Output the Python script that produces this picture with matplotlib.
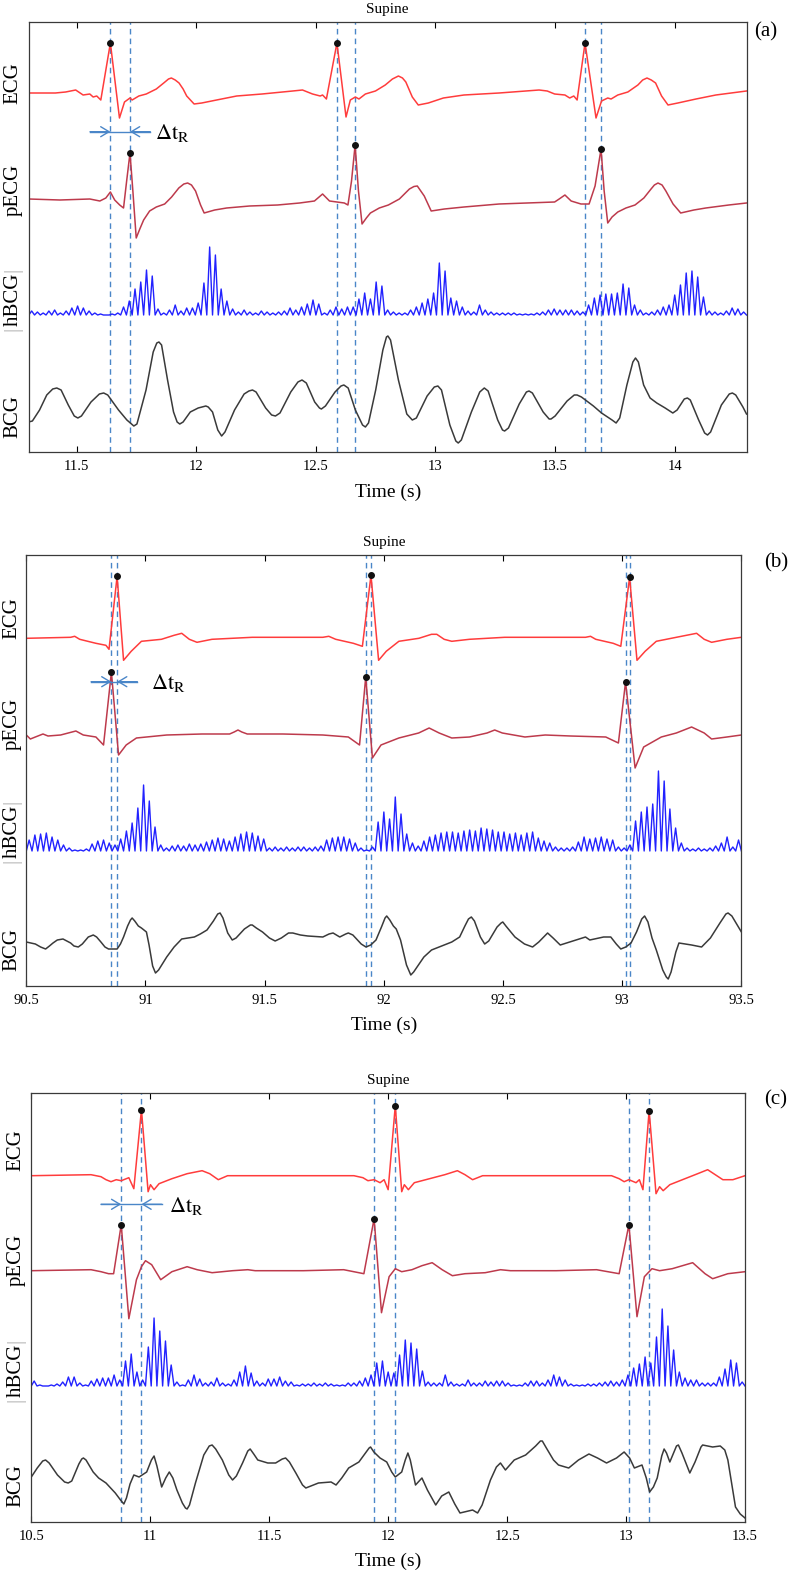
import numpy as np
import matplotlib
matplotlib.use("Agg")
import matplotlib.pyplot as plt
from matplotlib.ticker import FormatStrFormatter

plt.rcParams['font.family'] = ['Liberation Serif', 'DejaVu Serif']
plt.rcParams['mathtext.fontset'] = 'stix'

# ---------------- data ----------------
# traces: (time s, amplitude) ; amplitude in px above/below the trace baseline
# |hBCG|: height of each 24 ms oscillation, starting at the left edge of the panel

# panel (a), 11.3 - 14.3 s
ecg_a = [(11.300, 0), (11.411, 0), (11.454, 1), (11.496, 3), (11.527, -2), (11.555, -1), (11.569, -4),
         (11.584, -3), (11.601, -7), (11.641, 50), (11.679, -25), (11.700, -9), (11.723, -5), (11.732, -7),
         (11.760, -3), (11.791, -1), (11.833, 4), (11.864, 10), (11.884, 14), (11.896, 15), (11.912, 13),
         (11.928, 10), (11.945, 4), (11.960, -3), (11.991, -11), (12.023, -10), (12.085, -7), (12.169, -3),
         (12.275, -1), (12.403, 2), (12.444, 3), (12.486, -1), (12.518, -3), (12.528, -2), (12.544, -6),
         (12.588, 50), (12.626, -24), (12.644, -7), (12.665, -4), (12.680, -6), (12.707, -1), (12.749, 2),
         (12.790, 8), (12.820, 14), (12.845, 17), (12.862, 15), (12.876, 11), (12.903, -4), (12.928, -12),
         (12.970, -10), (13.033, -5), (13.119, -2), (13.266, 0), (13.433, 3), (13.467, 2), (13.498, -1),
         (13.541, -2), (13.561, -5), (13.578, -3), (13.592, -7), (13.625, 50), (13.671, -25), (13.694, -8),
         (13.720, -5), (13.734, -6), (13.762, -2), (13.804, 1), (13.846, 8), (13.866, 13), (13.884, 15),
         (13.902, 13), (13.920, 10), (13.945, -3), (13.972, -12), (14.013, -10), (14.089, -6), (14.172, -2),
         (14.300, 2)]
pecg_a = [(11.300, 2), (11.430, 1), (11.555, 2), (11.597, 0), (11.622, 3), (11.641, 9), (11.659, 1),
          (11.680, -4), (11.696, -7), (11.709, 20), (11.723, 48), (11.735, 10), (11.749, -37), (11.764, -28),
          (11.780, -19), (11.805, -10), (11.833, -6), (11.868, -3), (11.897, 4), (11.927, 13), (11.948, 17),
          (11.964, 18), (11.980, 16), (11.997, 10), (12.018, -4), (12.033, -12), (12.077, -9), (12.127, -7),
          (12.223, -5), (12.340, -4), (12.432, -2), (12.494, 0), (12.528, 7), (12.557, 0), (12.619, -2),
          (12.634, -4), (12.649, 20), (12.664, 56), (12.678, 10), (12.693, -23), (12.711, -17), (12.728, -12),
          (12.765, -7), (12.803, -4), (12.849, 2), (12.891, 12), (12.910, 14.5), (12.924, 15), (12.953, 5),
          (12.982, -10), (13.037, -8), (13.119, -6), (13.266, -3), (13.498, -1), (13.517, 2), (13.541, 6),
          (13.567, 0), (13.608, -3), (13.642, -3), (13.667, 15), (13.692, 52), (13.705, 10), (13.720, -22),
          (13.738, -16), (13.762, -11), (13.796, -7), (13.834, -4), (13.871, 3), (13.901, 12), (13.915, 16),
          (13.930, 18), (13.947, 16), (13.963, 10), (13.993, -3), (14.025, -12), (14.080, -9), (14.130, -7),
          (14.226, -4), (14.300, -2)]
bcg_a = [(11.299, -32), (11.315, -31), (11.345, -20), (11.375, -5), (11.400, 1), (11.417, 2), (11.435, 0),
         (11.465, -15), (11.490, -26), (11.505, -28), (11.520, -26), (11.560, -12), (11.595, -4), (11.613, -3),
         (11.630, -5), (11.675, -20), (11.710, -30), (11.739, -36), (11.752, -34), (11.790, 0), (11.820, 38),
         (11.835, 47), (11.844, 48), (11.855, 45), (11.880, 10), (11.905, -22), (11.920, -32), (11.931, -34),
         (11.945, -32), (11.975, -22), (12.008, -18), (12.040, -16), (12.050, -17), (12.068, -22), (12.090, -40),
         (12.106, -46), (12.120, -42), (12.160, -20), (12.200, -4), (12.220, -1), (12.235, 0), (12.250, -2),
         (12.290, -18), (12.315, -25), (12.331, -26), (12.350, -23), (12.395, -2), (12.425, 8), (12.442, 10),
         (12.460, 7), (12.495, -12), (12.515, -18), (12.523, -19), (12.540, -16), (12.580, -2), (12.605, 4),
         (12.617, 5), (12.635, 2), (12.665, -20), (12.695, -35), (12.707, -37), (12.720, -33), (12.750, 0),
         (12.780, 40), (12.795, 53), (12.801, 54), (12.812, 50), (12.845, 10), (12.880, -24), (12.903, -30),
         (12.920, -28), (12.965, -6), (12.995, 3), (13.010, 4), (13.025, 0), (13.060, -35), (13.085, -51),
         (13.095, -53), (13.108, -50), (13.150, -22), (13.185, -2), (13.204, 2), (13.220, -1), (13.260, -30),
         (13.280, -40), (13.289, -41), (13.305, -38), (13.350, -14), (13.380, -2), (13.391, -1), (13.405, -3),
         (13.450, -22), (13.475, -29), (13.483, -29), (13.500, -26), (13.550, -11), (13.580, -5), (13.592, -5),
         (13.610, -7), (13.660, -16), (13.694, -23), (13.738, -30), (13.755, -33), (13.770, -28), (13.800, 5),
         (13.825, 28), (13.836, 32), (13.848, 28), (13.870, 5), (13.897, -8), (13.925, -13), (13.960, -18),
         (13.992, -23), (14.010, -20), (14.040, -9), (14.053, -8), (14.065, -10), (14.100, -30), (14.125, -43),
         (14.137, -45), (14.150, -42), (14.195, -15), (14.228, -4), (14.241, -3), (14.255, -5), (14.285, -17),
         (14.300, -24)]
hbcg_a = [4, 3, 2, 4, 5, 2, 4, 7, 9, 7,
          4, 2, 1, 0, 1, 2, 8, 14, 26, 33,
          45, 39, 6, 2, 5, 10, 4, 7, 7, 12,
          32, 68, 60, 26, 14, 6, 3, 5, 3, 2,
          4, 3, 2, 3, 4, 7, 5, 8, 11, 15,
          11, 2, 5, 8, 6, 8, 8, 16, 22, 16,
          33, 29, 5, 3, 2, 2, 5, 8, 12, 16,
          22, 52, 44, 17, 14, 8, 4, 3, 10, 5,
          3, 2, 2, 2, 2, 1, 1, 1, 2, 3,
          5, 6, 5, 5, 5, 4, 3, 10, 17, 20,
          21, 21, 22, 31, 27, 10, 5, 2, 3, 5,
          8, 10, 20, 30, 42, 44, 38, 18, 4, 3,
          2, 4, 7, 6, 3]
r_ecg_a = [11.641, 12.588, 13.625]
r_pecg_a = [11.723, 12.664, 13.692]

# panel (b), 90.5 - 93.5 s
ecg_b = [(90.500, 0), (90.686, 1), (90.703, 2), (90.724, -1), (90.792, -5), (90.834, -7), (90.847, -11),
         (90.881, 62), (90.908, -22), (90.940, -13), (90.983, -3), (91.067, -1), (91.120, 3), (91.152, 5),
         (91.184, -1), (91.216, -4), (91.279, -1), (91.448, 1), (91.744, 1), (91.769, 2), (91.798, -1),
         (91.872, -5), (91.910, -8), (91.946, 63), (91.978, -22), (92.010, -13), (92.063, -3), (92.147, 0),
         (92.200, 4), (92.222, 4), (92.253, -1), (92.285, -3), (92.359, -1), (92.507, 1), (92.846, 1),
         (92.867, 2), (92.889, -1), (92.962, -5), (92.994, -8), (93.031, 61), (93.062, -22), (93.096, -13),
         (93.143, -3), (93.227, 1), (93.312, 5), (93.344, -1), (93.375, -4), (93.439, -1), (93.500, 1)]
pecg_b = [(90.500, 0), (90.517, -4), (90.538, -2), (90.570, 1), (90.591, -1), (90.644, 0), (90.708, 4),
          (90.739, 0), (90.792, -2), (90.824, -10), (90.857, 63), (90.887, -20), (90.919, -10), (90.962, -3),
          (91.089, 0), (91.237, 1), (91.353, 1), (91.372, 3), (91.388, 5), (91.404, 3), (91.427, 1),
          (91.576, 1), (91.744, 0), (91.851, -2), (91.898, -10), (91.924, 58), (91.952, -23), (91.988, -10),
          (92.063, -3), (92.146, 2), (92.190, 7), (92.232, 2), (92.285, -3), (92.359, -2), (92.433, 2),
          (92.465, 5), (92.497, 2), (92.592, -2), (92.677, 0), (92.783, -1), (92.931, -2), (92.984, -8),
          (93.014, 53), (93.054, -33), (93.090, -12), (93.164, -2), (93.227, 2), (93.291, 8), (93.344, 2),
          (93.375, -4), (93.439, -2), (93.500, 0)]
bcg_b = [(90.500, -2), (90.520, -3), (90.538, -4), (90.560, -7), (90.581, -9), (90.597, -6), (90.612, -3),
         (90.630, 0), (90.654, 1), (90.670, -1), (90.686, -3), (90.700, -6), (90.718, -7), (90.735, -4),
         (90.760, 3), (90.781, 5), (90.795, 3), (90.813, -2), (90.830, -7), (90.845, -9), (90.881, -9),
         (90.895, -4), (90.908, 3), (90.925, 14), (90.937, 20), (90.944, 22), (90.955, 19), (90.970, 14),
         (90.983, 12), (91.004, 8), (91.015, -5), (91.030, -26), (91.042, -33), (91.055, -30), (91.089, -17),
         (91.120, -7), (91.152, 1), (91.180, 2), (91.205, 3), (91.230, 6), (91.258, 10), (91.285, 19),
         (91.303, 26), (91.313, 27), (91.325, 22), (91.345, 7), (91.364, 0), (91.380, 2), (91.415, 11),
         (91.440, 15), (91.448, 15), (91.465, 12), (91.491, 8), (91.520, 2), (91.544, -1), (91.570, 2),
         (91.600, 7), (91.618, 7), (91.650, 5), (91.681, 4), (91.744, 3), (91.770, 6), (91.787, 7),
         (91.815, 3), (91.840, 6), (91.851, 7), (91.870, 5), (91.905, -4), (91.925, -7), (91.945, -5),
         (91.967, 0), (91.990, 13), (92.005, 22), (92.012, 24), (92.025, 20), (92.040, 14), (92.052, 11),
         (92.070, 0), (92.095, -25), (92.113, -35), (92.125, -32), (92.168, -17), (92.200, -10), (92.232, -7),
         (92.285, -2), (92.318, 3), (92.340, 14), (92.355, 21), (92.367, 23), (92.380, 19), (92.405, 3),
         (92.423, -4), (92.440, -1), (92.475, 13), (92.492, 17), (92.499, 18), (92.512, 14), (92.550, 3),
         (92.590, -4), (92.624, -7), (92.650, -2), (92.687, 7), (92.710, 2), (92.740, -5), (92.780, -2),
         (92.846, 3), (92.864, 0), (92.922, 3), (92.952, 3), (92.975, -4), (92.994, -9), (93.015, -7),
         (93.037, -3), (93.060, 8), (93.082, 21), (93.094, 24), (93.108, 18), (93.125, 2), (93.143, -10),
         (93.170, -30), (93.185, -37), (93.193, -39), (93.205, -32), (93.225, -12), (93.238, -3), (93.291, -5),
         (93.333, -7), (93.370, 2), (93.410, 17), (93.435, 26), (93.444, 27), (93.460, 24), (93.485, 14),
         (93.500, 8)]
hbcg_b = [11, 16, 17, 18, 14, 11, 6, 3, 1, 1,
          2, 7, 10, 11, 8, 6, 12, 20, 28, 43,
          66, 50, 24, 6, 3, 5, 6, 5, 7, 6,
          7, 9, 11, 13, 12, 10, 14, 17, 19, 18,
          15, 12, 3, 4, 3, 4, 3, 4, 4, 3,
          4, 5, 11, 13, 14, 14, 12, 8, 3, 1,
          4, 29, 39, 32, 54, 37, 17, 8, 5, 10,
          14, 16, 18, 19, 19, 18, 20, 21, 20, 23,
          22, 21, 19, 19, 17, 18, 16, 18, 19, 13,
          10, 8, 4, 3, 3, 4, 9, 14, 12, 13,
          14, 12, 11, 4, 3, 6, 30, 39, 44, 47,
          80, 70, 42, 23, 8, 3, 2, 3, 2, 3,
          5, 8, 14, 4, 11]
r_ecg_b = [90.881, 91.946, 93.031]
r_pecg_b = [90.857, 91.924, 93.014]

# panel (c), 10.5 - 13.5 s
ecg_c = [(10.500, 0), (10.751, 1), (10.793, -1), (10.814, -4), (10.835, -6), (10.857, -4), (10.878, -5),
         (10.910, -2), (10.931, -13), (10.963, 66), (10.991, -16), (11.001, -9), (11.016, -14), (11.037, -8),
         (11.091, -3), (11.155, 2), (11.218, 5), (11.250, 2), (11.286, -4), (11.325, 0), (11.856, 0),
         (11.894, -2), (11.915, -5), (11.941, -4), (11.966, -7), (11.983, -4), (12.000, -14), (12.030, 70),
         (12.057, -16), (12.068, -9), (12.085, -14), (12.110, -7), (12.174, -3), (12.238, 1), (12.291, 5),
         (12.323, 1), (12.355, -4), (12.397, 0), (12.939, 0), (12.971, -3), (12.992, -6), (13.012, -4),
         (13.042, -7), (13.056, -4), (13.071, -14), (13.097, 65), (13.126, -18), (13.141, -11), (13.156, -15),
         (13.184, -9), (13.237, -4), (13.301, 2), (13.343, 6), (13.375, 1), (13.407, -4), (13.449, -4),
         (13.500, 0)]
pecg_c = [(10.500, 0), (10.751, 1), (10.793, -1), (10.825, -3), (10.846, -3), (10.878, 46), (10.910, -48),
          (10.942, -9), (10.963, 4), (10.980, 10), (11.006, 6), (11.044, -9), (11.091, -1), (11.155, 4),
          (11.197, 1), (11.260, -2), (11.346, 0), (11.410, 1), (11.441, 0), (11.643, 0), (11.813, 1),
          (11.898, -3), (11.941, 52), (11.972, -42), (12.004, -6), (12.030, 2), (12.057, -1), (12.100, 1),
          (12.142, 5), (12.185, 8), (12.227, 1), (12.270, -5), (12.323, -3), (12.408, -2), (12.472, 1),
          (12.514, 0), (12.706, 0), (12.876, 1), (12.971, -3), (13.012, 46), (13.046, -46), (13.077, -6),
          (13.109, 2), (13.141, 0), (13.194, 2), (13.280, 8), (13.332, -3), (13.364, -8), (13.428, -3),
          (13.500, -1)]
bcg_c = [(10.500, 3), (10.525, 12), (10.548, 19), (10.560, 20), (10.575, 17), (10.610, 5), (10.640, -2),
         (10.655, -3), (10.670, -1), (10.700, 16), (10.712, 21), (10.719, 22), (10.730, 20), (10.760, 8),
         (10.783, 2), (10.814, -3), (10.853, -13), (10.875, -20), (10.889, -24), (10.900, -18), (10.915, -4),
         (10.931, 5), (10.953, 3), (10.985, 8), (11.005, 20), (11.016, 24), (11.028, 14), (11.048, -7),
         (11.065, 2), (11.080, 8), (11.095, 2), (11.112, -10), (11.135, -23), (11.148, -28), (11.155, -29),
         (11.165, -25), (11.190, -3), (11.225, 25), (11.248, 34), (11.260, 35), (11.275, 31), (11.303, 20),
         (11.330, 5), (11.346, 0), (11.362, 4), (11.388, 17), (11.410, 29), (11.420, 31), (11.435, 26),
         (11.452, 20), (11.494, 17), (11.527, 17), (11.555, 21), (11.569, 22), (11.585, 18), (11.612, 7),
         (11.640, -5), (11.654, -8), (11.675, -6), (11.707, -3), (11.760, -2), (11.781, -5), (11.805, 2),
         (11.834, 12), (11.877, 18), (11.905, 27), (11.920, 32), (11.926, 33), (11.940, 28), (11.966, 22),
         (11.994, 18), (12.015, 8), (12.030, 3), (12.057, 8), (12.072, 20), (12.083, 27), (12.093, 20),
         (12.115, -5), (12.142, 2), (12.165, -10), (12.200, -25), (12.225, -16), (12.255, -12), (12.280, -24),
         (12.302, -33), (12.320, -32), (12.355, -30), (12.376, -33), (12.395, -25), (12.430, 0), (12.455, 13),
         (12.472, 17), (12.493, 10), (12.530, 20), (12.578, 25), (12.620, 34), (12.640, 39), (12.648, 39),
         (12.665, 32), (12.695, 20), (12.716, 15), (12.759, 12), (12.800, 20), (12.844, 26), (12.880, 22),
         (12.918, 17), (12.960, 22), (12.992, 28), (13.015, 22), (13.035, 12), (13.067, 15), (13.085, 2),
         (13.099, -12), (13.115, -7), (13.131, 2), (13.150, 24), (13.160, 31), (13.170, 27), (13.184, 18),
         (13.200, 27), (13.212, 34), (13.220, 35), (13.235, 27), (13.268, 7), (13.290, 18), (13.315, 33),
         (13.322, 35), (13.364, 33), (13.396, 34), (13.415, 30), (13.428, 20), (13.445, -5), (13.460, -27),
         (13.480, -34), (13.500, -38)]
hbcg_c = [5, 1, 0, 1, 2, 4, 9, 9, 3, 1,
          5, 7, 8, 8, 11, 6, 25, 32, 14, 6,
          39, 68, 55, 45, 21, 4, 1, 6, 11, 7,
          3, 4, 8, 3, 2, 6, 14, 20, 13, 5,
          3, 7, 7, 9, 5, 4, 1, 2, 2, 3,
          2, 3, 2, 1, 1, 3, 3, 5, 8, 11,
          23, 25, 14, 13, 31, 46, 43, 37, 15, 4,
          3, 3, 11, 4, 2, 2, 6, 3, 3, 5,
          4, 5, 5, 3, 1, 1, 3, 5, 5, 3,
          6, 11, 9, 6, 2, 1, 1, 2, 2, 3,
          4, 5, 4, 6, 11, 18, 22, 29, 23, 49,
          77, 60, 36, 14, 8, 6, 6, 3, 3, 3,
          9, 17, 26, 23, 4]
r_ecg_c = [10.963, 12.030, 13.097]
r_pecg_c = [10.878, 11.941, 13.012]

ticks_a = [11.5, 12, 12.5, 13, 13.5, 14]
ticks_b = [90.5, 91, 91.5, 92, 92.5, 93, 93.5]
ticks_c = [10.5, 11, 11.5, 12, 12.5, 13, 13.5]
HBCG_PERIOD = 0.024

# ---------------- drawing ----------------
W, H = 792, 1575
fig = plt.figure(figsize=(W / 100, H / 100), dpi=100)

C_ECG = '#ff3c3c'
C_PECG = '#bd3a4c'
C_HBCG = '#2222ff'
C_BCG = '#3a3a3a'
C_MARK = '#4a86c8'


def fx(x):
    return x / W


def fy(y):
    return 1 - y / H


panels = [
    dict(ecg=ecg_a, pecg=pecg_a, hbcg=hbcg_a, bcg=bcg_a, r_ecg=r_ecg_a, r_pecg=r_pecg_a,
         xlim=(11.3, 14.3), ticks=ticks_a, box=(28.8, 746.5, 22, 452), base=(359, 251, 137, 62),
         lab_x=13, lab_y=(83, 190, 299, 417), letter='(a)', letter_xy=(766, 32),
         arrow_y=131.7, dt_xy=(155, 133)),
    dict(ecg=ecg_b, pecg=pecg_b, hbcg=hbcg_b, bcg=bcg_b, r_ecg=r_ecg_b, r_pecg=r_pecg_b,
         xlim=(90.5, 93.5), ticks=ticks_b, box=(26.3, 741.4, 555, 985.7), base=(347.4, 250.7, 134.7, 45.7),
         lab_x=12, lab_y=(618, 724, 831, 950), letter='(b)', letter_xy=(776, 563),
         arrow_y=681.7, dt_xy=(151, 683)),
    dict(ecg=ecg_c, pecg=pecg_c, hbcg=hbcg_c, bcg=bcg_c, r_ecg=r_ecg_c, r_pecg=r_pecg_c,
         xlim=(10.5, 13.5), ticks=ticks_c, box=(31.3, 745, 1092.7, 1521.7), base=(346, 251, 135.7, 41.7),
         lab_x=16, lab_y=(1150, 1260, 1370, 1486), letter='(c)', letter_xy=(776, 1100),
         arrow_y=1204.3, dt_xy=(169, 1206)),
]

for p in panels:
    l, r, t, b = p['box']
    ax = fig.add_axes([fx(l), fy(b), (r - l) / W, (b - t) / H])
    ax.set_xlim(*p['xlim'])
    ax.set_ylim(0, b - t)
    b_ecg, b_pecg, b_hbcg, b_bcg = p['base']

    # R-peak markers (dashed)
    for tr in p['r_ecg'] + p['r_pecg']:
        ax.axvline(tr, color=C_MARK, lw=1.0, ls=(0, (4, 3)), zorder=1)

    te, ve = np.array(p['ecg']).T
    tp, vp = np.array(p['pecg']).T
    tb, vb = np.array(p['bcg']).T
    ax.plot(te, b_ecg + ve, color=C_ECG, lw=1.1, zorder=2, solid_joinstyle='round')
    ax.plot(tp, b_pecg + vp, color=C_PECG, lw=1.1, zorder=2, solid_joinstyle='round')
    ax.plot(tb, b_bcg + vb, color=C_BCG, lw=1.1, zorder=2, solid_joinstyle='round')

    n = len(p['hbcg'])
    th = p['xlim'][0] + HBCG_PERIOD / 2 * np.arange(2 * n + 1)
    yh = np.zeros(2 * n + 1)
    yh[1::2] = p['hbcg']
    ax.plot(th, b_hbcg + yh, color=C_HBCG, lw=1.0, zorder=2, solid_joinstyle='round')

    # R-peak dots
    re = np.array(p['r_ecg'])
    rp = np.array(p['r_pecg'])
    ax.plot(re, b_ecg + np.interp(re, te, ve), 'o', color='#111111', ms=4, zorder=4)
    ax.plot(rp, b_pecg + np.interp(rp, tp, vp), 'o', color='#111111', ms=4, zorder=4)

    # delta t_R arrows on first beat
    ya = b - p['arrow_y']
    h1 = min(p['r_ecg'][0], p['r_pecg'][0])
    h2 = max(p['r_ecg'][0], p['r_pecg'][0])
    ax.plot([h1 - 0.085, h2 + 0.085], [ya, ya], color=C_MARK, lw=1.0, zorder=3)
    for head, tail in [(h1, h1 - 0.085), (h2, h2 + 0.085)]:
        ax.annotate('', xy=(head, ya), xytext=(tail, ya),
                    arrowprops=dict(arrowstyle='->,head_length=0.5,head_width=0.3', color=C_MARK,
                                    lw=1.0, shrinkA=0, shrinkB=0, mutation_scale=12))
    fig.text(fx(p['dt_xy'][0]), fy(p['dt_xy'][1]), r'$\Delta\mathrm{t}_{\mathrm{R}}$',
             fontsize=16, ha='left', va='center')

    ax.set_xticks(p['ticks'])
    ax.xaxis.set_major_formatter(FormatStrFormatter('%g'))
    ax.tick_params(axis='x', direction='in', top=True, length=4, width=0.8, labelsize=10.5, pad=6)
    ax.set_yticks([])
    for s in ax.spines.values():
        s.set_color('#3a3a3a')
        s.set_linewidth(0.9)

    cx = (l + r) / 2
    fig.text(fx(cx), fy(t - 12.5), 'Supine', ha='center', va='center', fontsize=11)
    fig.text(fx(cx), fy(b + 40), 'Time (s)', ha='center', va='center', fontsize=14)
    fig.text(fx(p['letter_xy'][0]), fy(p['letter_xy'][1]), p['letter'], ha='center', va='center', fontsize=15)

    lx = p['lab_x']
    ly = p['lab_y']
    fig.text(fx(lx), fy(ly[0]), 'ECG', rotation=90, ha='center', va='center', fontsize=15)
    fig.text(fx(lx), fy(ly[1]), 'pECG', rotation=90, ha='center', va='center', fontsize=15)
    fig.text(fx(lx), fy(ly[2]), 'hBCG', rotation=90, ha='center', va='center', fontsize=15)
    fig.text(fx(lx), fy(ly[2] - 29.5), '|', rotation=90, ha='center', va='center', fontsize=15, color='#b0b0b0')
    fig.text(fx(lx), fy(ly[2] + 29.5), '|', rotation=90, ha='center', va='center', fontsize=15, color='#b0b0b0')
    fig.text(fx(lx), fy(ly[3]), 'BCG', rotation=90, ha='center', va='center', fontsize=15)

fig.savefig('out.png', dpi=100)
